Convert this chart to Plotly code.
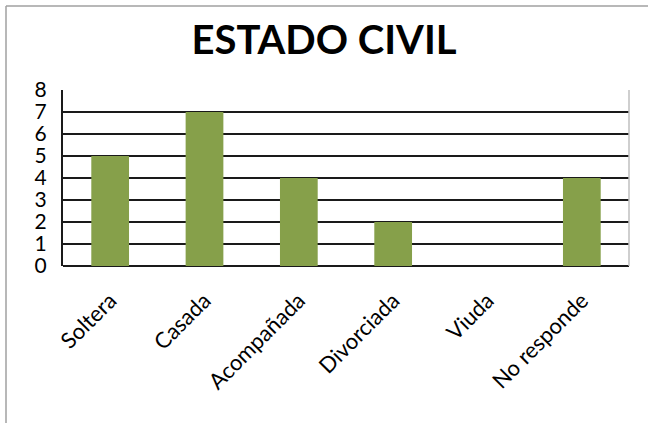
import plotly.graph_objects as go

categories = ["Soltera", "Casada", "Acompañada", "Divorciada", "Viuda", "No responde"]
values = [5, 7, 4, 2, 0, 4]
y_ticks = [0, 1, 2, 3, 4, 5, 6, 7, 8]

W, H = 648, 423
L, R, T, B = 63, 19, 90, 157

fig = go.Figure()
fig.add_trace(go.Bar(
    x=categories, y=values,
    marker=dict(color="#86A04A", line=dict(width=0)),
))

def px_x(p):
    return (p - L) / (W - L - R)

def px_y(p):
    return (H - B - p) / (H - T - B)

fig.update_layout(
    width=W, height=H,
    margin=dict(l=L, r=R, t=T, b=B, pad=0),
    paper_bgcolor="white", plot_bgcolor="white",
    bargap=0.6,
    showlegend=False,
    font=dict(family="Lato, Open Sans, sans-serif", color="black"),
    title=dict(text="<b>ESTADO CIVIL</b>", x=0.5, xanchor="center",
               y=1 - 40 / H, yanchor="middle",
               font=dict(size=40, family="Lato, Open Sans, sans-serif", color="black")),
    xaxis=dict(tickangle=-45, tickfont=dict(size=22), showgrid=False,
               showline=False, ticks="outside", ticklen=12,
               tickcolor="rgba(0,0,0,0)"),
    yaxis=dict(range=[0, 8], tickvals=y_ticks, tickfont=dict(size=21),
               showgrid=True, gridcolor="#1a1a1a", gridwidth=2,
               zeroline=True, zerolinecolor="#1a1a1a", zerolinewidth=2,
               showline=True, linecolor="#1a1a1a", linewidth=2,
               ticks="", ticklabelstandoff=10),
    shapes=[
        dict(type="line", xref="paper", yref="paper",
             x0=1, x1=1, y0=0, y1=1, line=dict(color="#BFBFBF", width=1.5)),
        dict(type="line", xref="paper", yref="paper",
             x0=px_x(6), x1=px_x(W), y0=px_y(6), y1=px_y(6),
             line=dict(color="#A0A0A0", width=1.5)),
        dict(type="line", xref="paper", yref="paper",
             x0=px_x(6), x1=px_x(6), y0=px_y(6), y1=px_y(H),
             line=dict(color="#A0A0A0", width=1.5)),
    ],
)

fig.write_html("out.html", config={"displayModeBar": False},
               post_script="document.body.style.margin='0';")
